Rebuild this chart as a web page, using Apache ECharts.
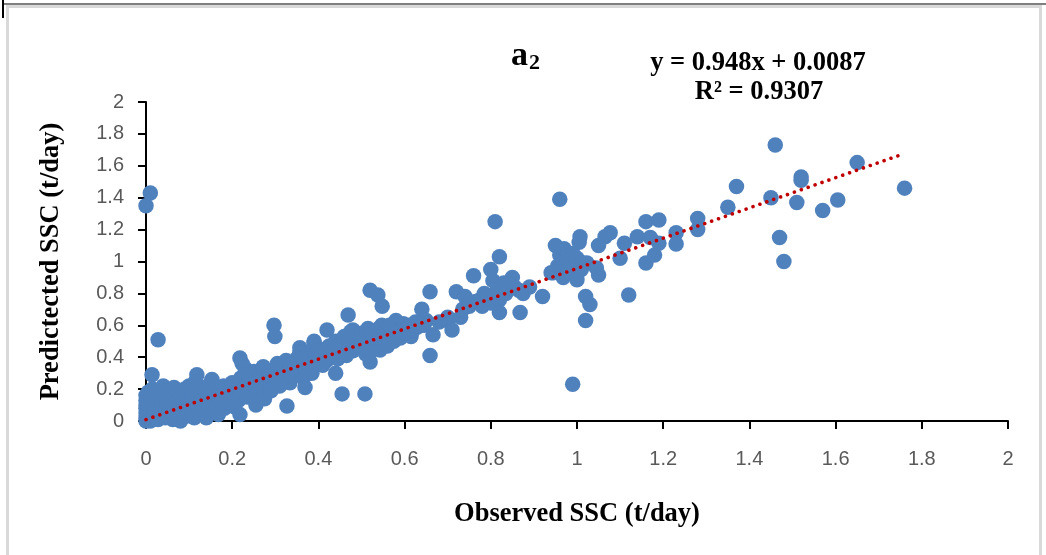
<!DOCTYPE html>
<html>
<head>
<meta charset="utf-8">
<script src="https://cdn.jsdelivr.net/npm/echarts@6/dist/echarts.min.js"></script>
<style>
html,body{margin:0;padding:0;background:#fff;}
#chart{width:1046px;height:555px;}
</style>
</head>
<body>
<div id="chart"></div>
<script>
// ---- data (observed SSC, predicted SSC) in t/day ----
const sscPairs = [
  [0,0],[0,0.02],[0,0.05],[0,0.08],[0,0.1],[0,0.13],[0,0.16],[0.005,0.18],[0.003,0.04],[0.008,0.12],
  [0.01,0.0],[0.01,0.07],[0.012,0.15],[0.015,0.2],[0.018,0.03],[0.02,0.1],[0.02,0.06],[0.025,0.13],[0.028,0.01],[0.03,0.18],
  [0.03,0.08],[0.035,0.04],[0.038,0.11],[0.04,0.15],[0.04,0.22],[0.045,0.02],[0.048,0.07],[0.05,0.12],[0.052,0.19],[0.055,0.05],
  [0.06,0.1],[0.06,0.16],[0.062,0.01],[0.065,0.21],[0.068,0.07],[0.07,0.13],[0.072,0.04],[0.075,0.18],[0.078,0.1],[0.08,0.0],
  [0.082,0.15],[0.085,0.06],[0.088,0.12],[0.09,0.2],[0.092,0.03],[0.095,0.09],[0.098,0.16],[0.1,0.05],[0.1,0.12],[0.1,0.22],
  [0.014,0.29],[0.028,0.51],[0,1.35],[0.01,1.43],
  [0.105,0.08],[0.11,0.15],[0.112,0.02],[0.115,0.25],[0.118,0.29],[0.12,0.1],[0.125,0.05],[0.128,0.18],[0.13,0.13],[0.135,0.21],
  [0.138,0.08],[0.14,0.02],[0.145,0.16],[0.148,0.11],[0.15,0.24],[0.153,0.26],[0.155,0.06],[0.158,0.14],[0.16,0.19],[0.165,0.09],
  [0.168,0.04],[0.17,0.17],[0.175,0.12],[0.18,0.22],[0.182,0.08],[0.185,0.15],[0.19,0.19],[0.195,0.11],[0.2,0.24],[0.2,0.16],
  [0.205,0.09],[0.21,0.2],[0.215,0.13],[0.218,0.395],[0.223,0.36],[0.218,0.04],[0.22,0.27],[0.225,0.18],[0.23,0.33],[0.232,0.22],
  [0.235,0.15],[0.24,0.28],[0.245,0.2],[0.25,0.31],[0.252,0.24],[0.255,0.1],[0.26,0.17],[0.265,0.27],[0.27,0.21],[0.272,0.34],
  [0.275,0.14],[0.28,0.25],[0.285,0.3],[0.288,0.24],[0.29,0.19],[0.295,0.32],[0.297,0.6],[0.299,0.53],[0.3,0.26],[0.305,0.36],
  [0.31,0.22],[0.315,0.3],[0.318,0.34],[0.32,0.27],[0.325,0.38],[0.327,0.094],[0.33,0.31],[0.334,0.24],[0.335,0.35],[0.34,0.28],
  [0.345,0.33],[0.35,0.39],[0.355,0.31],[0.357,0.46],[0.357,0.43],[0.36,0.36],[0.365,0.38],[0.365,0.27],[0.369,0.21],[0.37,0.33],
  [0.375,0.42],[0.38,0.35],[0.385,0.3],[0.39,0.49],[0.39,0.5],[0.392,0.4],[0.395,0.37],
  [0.4,0.44],[0.404,0.4],[0.41,0.35],[0.415,0.45],[0.42,0.57],[0.42,0.38],[0.425,0.47],[0.43,0.42],[0.434,0.445],[0.44,0.3],
  [0.44,0.5],[0.445,0.39],[0.45,0.47],[0.455,0.17],[0.457,0.465],[0.46,0.53],[0.465,0.41],[0.469,0.665],[0.47,0.5],[0.475,0.56],
  [0.48,0.57],[0.48,0.44],[0.485,0.52],[0.49,0.47],[0.497,0.47],[0.5,0.55],[0.505,0.5],[0.508,0.17],[0.51,0.42],[0.515,0.58],
  [0.52,0.82],[0.52,0.43],[0.52,0.37],[0.525,0.52],[0.53,0.55],[0.536,0.49],[0.538,0.79],[0.54,0.58],[0.543,0.445],[0.547,0.6],
  [0.548,0.72],[0.55,0.51],[0.555,0.56],[0.56,0.47],[0.565,0.6],[0.57,0.54],[0.575,0.5],[0.58,0.63],[0.585,0.57],[0.59,0.52],
  [0.597,0.61],[0.6,0.55],[0.605,0.58],[0.61,0.6],[0.615,0.53],[0.62,0.57],[0.625,0.62],[0.63,0.59],[0.64,0.7],[0.645,0.6],
  [0.65,0.63],[0.659,0.81],[0.659,0.41],[0.666,0.54],
  [0.68,0.62],[0.7,0.65],[0.7,0.63],[0.71,0.57],[0.72,0.81],[0.73,0.65],[0.735,0.7],[0.74,0.78],[0.75,0.72],[0.76,0.91],
  [0.765,0.75],[0.775,0.76],[0.78,0.72],[0.785,0.8],[0.79,0.78],[0.8,0.74],[0.8,0.95],[0.805,0.88],[0.81,1.25],[0.815,0.82],
  [0.82,0.76],[0.82,0.68],[0.82,1.03],[0.83,0.865],[0.835,0.8],[0.85,0.9],[0.855,0.84],[0.865,0.82],[0.868,0.68],[0.875,0.8],
  [0.89,0.84],[0.92,0.78],[0.94,0.93],
  [0.945,0.93],[0.95,1.1],[0.955,0.97],[0.96,1.39],[0.96,1.04],[0.965,0.96],[0.968,0.9],[0.97,1.08],[0.975,1.0],[0.977,0.99],
  [0.98,1.05],[0.985,0.94],[0.99,1.05],[0.99,0.23],[0.995,0.98],[1.0,0.885],[1.0,1.02],[1.005,1.12],[1.007,1.155],[1.01,0.95],
  [1.015,0.99],[1.02,0.78],[1.02,0.63],[1.023,0.99],[1.03,0.73],[1.045,0.96],[1.05,0.915],[1.05,1.1],[1.065,1.155],[1.077,1.18],
  [1.1,1.02],[1.11,1.115],[1.12,0.79],[1.14,1.155],[1.16,1.25],[1.16,0.99],[1.17,1.15],[1.18,1.04],[1.19,1.26],[1.19,1.115],
  [1.23,1.18],[1.23,1.11],[1.28,1.27],[1.28,1.2],
  [1.35,1.34],[1.37,1.47],[1.45,1.4],[1.46,1.73],[1.47,1.15],[1.48,1.0],[1.51,1.37],[1.52,1.53],[1.52,1.51],[1.57,1.32],
  [1.605,1.385],[1.65,1.62],[1.76,1.46]
];
const trendSlope = 0.948;
const trendIntercept = 0.0087;
const rSquared = 0.9307;
const axisMin = 0, axisMax = 2, axisStep = 0.2;
const xTitle = 'Observed SSC (t/day)';
const yTitle = 'Predictected SSC (t/day)';
const panelLabel = 'a';
const panelSub = '2';

const xs = sscPairs.map(p => p[0]);
const xMaxObs = Math.max.apply(null, xs);
const trendData = [
  [0, trendIntercept],
  [xMaxObs, trendSlope * xMaxObs + trendIntercept]
];

const chart = echarts.init(document.getElementById('chart'));
const serif = '"Liberation Serif","Times New Roman",serif';
const tickFont = {fontFamily: '"Liberation Sans",Arial,sans-serif', fontSize: 20, color: '#595959'};

const axisCommon = {
  type: 'value', min: axisMin, max: axisMax, interval: axisStep,
  splitLine: {show: false},
  axisLine: {show: true, onZero: false, lineStyle: {color: '#000', width: 2}},
  axisTick: {show: true, inside: false, length: 8, lineStyle: {color: '#000', width: 2}},
  nameLocation: 'middle',
  nameTextStyle: {fontFamily: serif, fontWeight: 'bold', fontSize: 26.5, color: '#000'}
};

chart.setOption({
  animation: false,
  backgroundColor: '#fff',
  grid: {left: 146, right: 38, top: 102, bottom: 134},
  xAxis: Object.assign({}, axisCommon, {
    name: xTitle, nameGap: 80,
    axisLabel: Object.assign({margin: 28, formatter: v => String(+v.toFixed(1))}, tickFont)
  }),
  yAxis: Object.assign({}, axisCommon, {
    name: yTitle, nameGap: 81,
    axisLabel: Object.assign({margin: 22, formatter: v => String(+v.toFixed(1))}, tickFont)
  }),
  graphic: [
    {type: 'line', shape: {x1: 3, y1: 4, x2: 1046, y2: 4}, style: {stroke: '#7f7f7f', lineWidth: 2}, silent: true},
    {type: 'line', shape: {x1: 3, y1: 0, x2: 3, y2: 18}, style: {stroke: '#000', lineWidth: 2}, silent: true},
    {type: 'polyline', shape: {points: [[7.5, 555], [7.5, 6.5], [1040.5, 6.5], [1040.5, 555]]}, style: {stroke: '#d9d9d9', lineWidth: 3, fill: null}, silent: true},
    {type: 'text', x: 511, y: 39, silent: true,
      style: {text: panelLabel, fontFamily: serif, fontWeight: 'bold', fontSize: 34, fill: '#000'}},
    {type: 'text', x: 529, y: 52, silent: true,
      style: {text: panelSub, fontFamily: serif, fontWeight: 'bold', fontSize: 22, fill: '#000'}},
    {type: 'text', x: 758, y: 63, silent: true,
      style: {text: 'y = ' + trendSlope + 'x + ' + trendIntercept, textAlign: 'center', textVerticalAlign: 'middle',
        fontFamily: serif, fontWeight: 'bold', fontSize: 26.5, fill: '#000'}},
    {type: 'text', x: 759, y: 92, silent: true,
      style: {text: 'R² = ' + rSquared, textAlign: 'center', textVerticalAlign: 'middle',
        fontFamily: serif, fontWeight: 'bold', fontSize: 26.5, fill: '#000'}}
  ],
  series: [
    {
      type: 'scatter', data: sscPairs, symbol: 'circle', symbolSize: 15.5,
      itemStyle: {color: '#4F81BD', opacity: 1}, z: 2, silent: true
    },
    {
      type: 'line', data: trendData, showSymbol: false, symbol: 'none', z: 3, silent: true,
      lineStyle: {color: '#C00000', width: 3.6, type: [0.01, 7.3], cap: 'round'}
    }
  ]
});
</script>
</body>
</html>
